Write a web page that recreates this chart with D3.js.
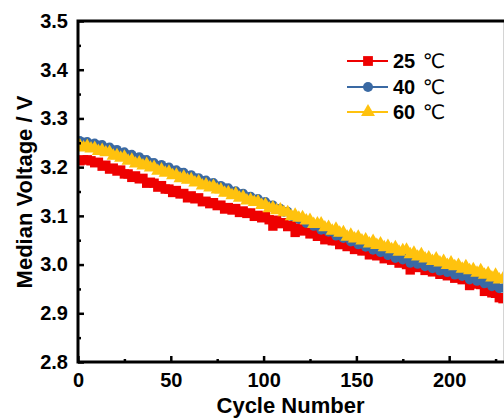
<!DOCTYPE html>
<html>
<head>
<meta charset="utf-8">
<script src="https://cdn.jsdelivr.net/npm/d3@7"></script>
<style>
  body { margin: 0; background: white; }
  svg { display: block; font-family: Arial, "Liberation Sans", sans-serif; }
</style>
</head>
<body>
<div id="chart"></div>
<script>
// Data (every other cycle)
var cycles = d3.range(1, 230, 2);

var v25 = [3.213, 3.215, 3.215, 3.213, 3.209, 3.210, 3.202, 3.204, 3.196, 3.198,
  3.192, 3.194, 3.186, 3.186, 3.179, 3.182, 3.176, 3.177, 3.167, 3.169,
  3.167, 3.159, 3.162, 3.155, 3.155, 3.148, 3.152, 3.145, 3.146, 3.137,
  3.141, 3.135, 3.137, 3.129, 3.130, 3.125, 3.127, 3.121, 3.122, 3.114,
  3.117, 3.112, 3.115, 3.107, 3.110, 3.105, 3.106, 3.099, 3.101, 3.096,
  3.099, 3.092, 3.079, 3.091, 3.084, 3.086, 3.078, 3.080, 3.066, 3.075,
  3.069, 3.071, 3.063, 3.064, 3.058, 3.061, 3.051, 3.054, 3.049, 3.049,
  3.041, 3.043, 3.037, 3.039, 3.031, 3.033, 3.028, 3.029, 3.020, 3.023,
  3.018, 3.020, 3.012, 3.014, 3.009, 3.011, 3.003, 3.005, 3.000, 2.989,
  3.000, 2.994, 2.997, 2.988, 2.990, 2.985, 2.987, 2.980, 2.982, 2.977,
  2.979, 2.972, 2.974, 2.969, 2.971, 2.957, 2.965, 2.960, 2.959, 2.945,
  2.949, 2.942, 2.941, 2.932, 2.930];

var v40 = [3.254, 3.251, 3.252, 3.247, 3.249, 3.245, 3.246, 3.239, 3.241, 3.235,
  3.236, 3.229, 3.231, 3.225, 3.226, 3.219, 3.221, 3.215, 3.215, 3.209,
  3.209, 3.203, 3.205, 3.199, 3.200, 3.193, 3.194, 3.189, 3.189, 3.182,
  3.184, 3.178, 3.178, 3.172, 3.173, 3.167, 3.168, 3.161, 3.162, 3.157,
  3.157, 3.150, 3.151, 3.145, 3.146, 3.139, 3.140, 3.134, 3.135, 3.128,
  3.129, 3.122, 3.122, 3.114, 3.115, 3.108, 3.109, 3.099, 3.100, 3.093,
  3.094, 3.085, 3.087, 3.079, 3.081, 3.071, 3.074, 3.067, 3.069, 3.059,
  3.061, 3.054, 3.056, 3.047, 3.048, 3.041, 3.043, 3.036, 3.038, 3.030,
  3.032, 3.025, 3.029, 3.019, 3.022, 3.013, 3.018, 3.010, 3.014, 3.003,
  3.009, 3.001, 3.006, 2.996, 3.001, 2.992, 2.997, 2.987, 2.992, 2.984,
  2.989, 2.979, 2.984, 2.976, 2.980, 2.969, 2.975, 2.966, 2.971, 2.961,
  2.965, 2.955, 2.960, 2.951, 2.952];

var v60 = [3.244, 3.240, 3.243, 3.238, 3.239, 3.233, 3.235, 3.230, 3.231, 3.223,
  3.224, 3.219, 3.221, 3.213, 3.215, 3.207, 3.209, 3.203, 3.206, 3.199,
  3.200, 3.192, 3.195, 3.188, 3.190, 3.183, 3.184, 3.177, 3.180, 3.174,
  3.175, 3.168, 3.170, 3.162, 3.164, 3.158, 3.161, 3.154, 3.154, 3.147,
  3.148, 3.142, 3.145, 3.137, 3.139, 3.131, 3.133, 3.128, 3.129, 3.122,
  3.123, 3.115, 3.117, 3.111, 3.113, 3.107, 3.107, 3.099, 3.102, 3.096,
  3.097, 3.090, 3.091, 3.083, 3.084, 3.084, 3.076, 3.077, 3.069, 3.073,
  3.065, 3.066, 3.057, 3.061, 3.053, 3.057, 3.049, 3.051, 3.043, 3.048,
  3.040, 3.043, 3.035, 3.038, 3.031, 3.035, 3.026, 3.029, 3.030, 3.021,
  3.024, 3.016, 3.021, 3.012, 3.014, 3.007, 3.012, 3.004, 3.007, 2.999,
  3.004, 2.996, 2.999, 2.991, 2.996, 2.988, 2.990, 2.983, 2.988, 2.979,
  2.982, 2.973, 2.979, 2.969, 2.971];

var seriesNames = ["25 ℃", "40 ℃", "60 ℃"];
var seriesColors = ["#ee0000", "#3a69a3", "#ffc20e"];
var xTicks = [0, 50, 100, 150, 200];
var xMinor = [25, 75, 125, 175, 225];
var yTicks = [2.8, 2.9, 3.0, 3.1, 3.2, 3.3, 3.4, 3.5];
var yMinor = [2.85, 2.95, 3.05, 3.15, 3.25, 3.35, 3.45];

var width = 504
var height = 418
var plot = {left: 78, right: 503, top: 21, bottom: 362}

var x_scale = d3.scaleLinear()
    .domain([0, 229])
    .range([plot.left, plot.right]);
var y_scale = d3.scaleLinear()
    .domain([2.8, 3.5])
    .range([plot.bottom, plot.top]);

var symbols = [d3.symbolSquare, d3.symbolCircle, d3.symbolTriangle];
var symbolSizes = [88, 70, 76];

var svg = d3.select('#chart')
  .append('svg')
  .attr('width', width)
  .attr('height', height)
  .style("background-color", "white")

svg.append("clipPath")
    .attr("id", "clip")
  .append("rect")
    .attr("x", plot.left)
    .attr("y", 0)
    .attr("width", plot.right - plot.left)
    .attr("height", height)

// Data series (red first, yellow on top)

var allSeries = [v25, v40, v60];
var line = d3.line()
    .x(function (d) { return x_scale(d[0]); })
    .y(function (d) { return y_scale(d[1]); });

var dataG = svg.append("g").attr("clip-path", "url(#clip)");

allSeries.forEach(function (vals, s) {
    var pts = vals.map(function (v, i) { return [cycles[i], v]; });
    var g = dataG.append("g");
    g.append("path")
        .datum(pts)
        .attr("d", line)
        .style("fill", "none")
        .style("stroke", seriesColors[s])
        .style("stroke-width", 2);
    g.selectAll("path.pt")
        .data(pts)
        .enter()
        .append("path")
        .attr("class", "pt")
        .attr("d", d3.symbol().type(symbols[s]).size(symbolSizes[s]))
        .attr("transform", function (d) {
            return "translate(" + x_scale(d[0]) + "," + y_scale(d[1]) + ")";
        })
        .style("fill", seriesColors[s]);
});

// Axes (ticks point inwards)

var xAxis = svg.append("g")
    .attr("transform", "translate(0," + plot.bottom + ")")
    .call(d3.axisBottom(x_scale).tickValues(xTicks).tickSize(-6).tickPadding(11));
var xAxisMinor = svg.append("g")
    .attr("transform", "translate(0," + plot.bottom + ")")
    .call(d3.axisBottom(x_scale).tickValues(xMinor).tickSize(-3).tickFormat(""));
var yAxis = svg.append("g")
    .attr("transform", "translate(" + plot.left + ",0)")
    .call(d3.axisLeft(y_scale).tickValues(yTicks).tickSize(-6).tickPadding(10)
        .tickFormat(d3.format(".1f")));
var yAxisMinor = svg.append("g")
    .attr("transform", "translate(" + plot.left + ",0)")
    .call(d3.axisLeft(y_scale).tickValues(yMinor).tickSize(-3).tickFormat(""));

[xAxis, xAxisMinor, yAxis, yAxisMinor].forEach(function (a) {
    a.select(".domain").remove();
    a.selectAll("line").style("stroke", "black").style("stroke-width", 2.5);
    a.selectAll("text")
        .style("font-size", "20px")
        .style("font-weight", "bold")
        .style("fill", "black");
});

// Frame

svg.append("line")
    .attr("x1", plot.right + 0.5).attr("x2", plot.right + 0.5)
    .attr("y1", plot.top).attr("y2", plot.bottom)
    .style("stroke", "#d4d4d4")
    .style("stroke-width", 1)

svg.append("path")
    .attr("d", "M" + plot.right + "," + plot.top + "H" + plot.left + "V" + plot.bottom + "H" + plot.right)
    .style("fill", "none")
    .style("stroke", "black")
    .style("stroke-width", 3)
    .style("stroke-linecap", "square")

// Axis labels

svg.append("text")
    .attr("x", (plot.left + plot.right) / 2)
    .attr("y", 413)
    .style("text-anchor", "middle")
    .style("font-size", "22px")
    .style("font-weight", "bold")
    .text("Cycle Number");

svg.append("text")
    .attr("transform", "translate(32," + 192 + ") rotate(-90)")
    .style("text-anchor", "middle")
    .style("font-size", "22px")
    .style("font-weight", "bold")
    .text("Median Voltage / V");

// Legend

var legendY = [61, 87, 112];
var legend = svg.selectAll(".legend")
    .data(seriesNames)
    .enter().append("g")
    .attr("class", "legend")
    .attr("transform", function (d, i) { return "translate(347," + legendY[i] + ")"; });

legend.append("line")
    .attr("x1", 0).attr("x2", 41)
    .style("stroke", function (d, i) { return seriesColors[i]; })
    .style("stroke-width", 2);

legend.append("path")
    .attr("d", function (d, i) { return d3.symbol().type(symbols[i]).size(symbolSizes[i] + 8)(); })
    .attr("transform", "translate(21,0)")
    .style("fill", function (d, i) { return seriesColors[i]; });

var legendText = legend.append("text")
    .attr("x", 46)
    .attr("y", 7)
    .style("font-size", "20px");
legendText.append("tspan")
    .style("font-weight", "bold")
    .text(function (d) { return d.split(" ")[0] + " "; });
legendText.append("tspan")
    .attr("dx", 2)
    .style("font-family", "'DejaVu Sans'")
    .style("font-weight", "normal")
    .text(function (d) { return d.split(" ")[1]; });
</script>
</body>
</html>
